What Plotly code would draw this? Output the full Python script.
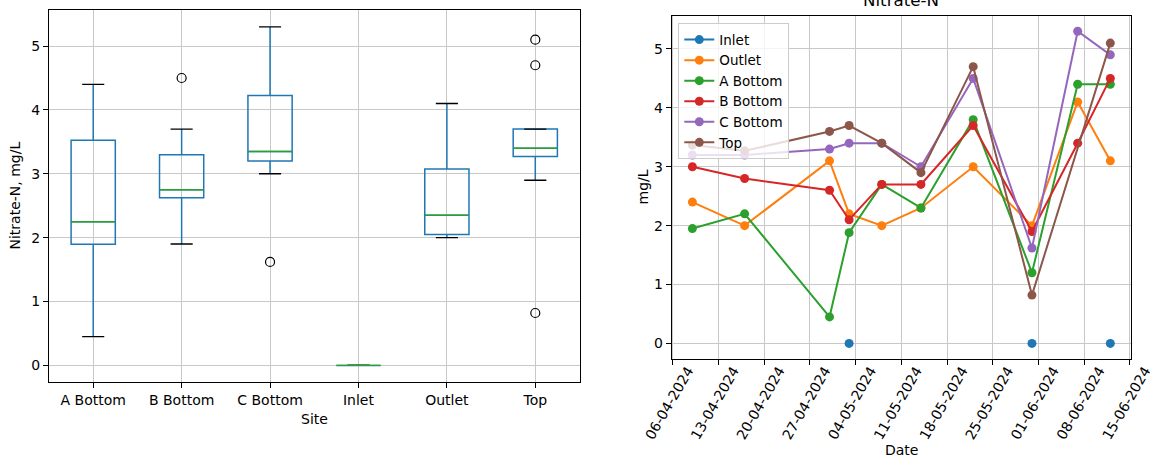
import numpy as np
import plotly.graph_objects as go

# ---- sampling dates and Nitrate-N readings (mg/L) per site ----
dates = ["2024-04-09", "2024-04-17", "2024-04-30", "2024-05-03", "2024-05-08",
         "2024-05-14", "2024-05-22", "2024-05-31", "2024-06-07", "2024-06-12"]
inlet = [None, None, None, 0.0, None, None, None, 0.0, None, 0.0]
outlet = [2.4, 2.0, 3.1, 2.2, 2.0, 2.3, 3.0, 2.0, 4.1, 3.1]
a_bottom = [1.95, 2.2, 0.45, 1.88, 2.7, 2.3, 3.8, 1.2, 4.4, 4.4]
b_bottom = [3.0, 2.8, 2.6, 2.1, 2.7, 2.7, 3.7, 1.9, 3.4, 4.5]
c_bottom = [3.2, 3.2, 3.3, 3.4, 3.4, 3.0, 4.5, 1.62, 5.3, 4.9]
top_dates = ["2024-04-09", "2024-04-17", "2024-04-30", "2024-05-03", "2024-05-08",
             "2024-05-14", "2024-05-22", "2024-05-31", "2024-06-12"]
top = [3.37, 3.27, 3.6, 3.7, 3.4, 2.9, 4.7, 0.82, 5.1]

box_sites = ["A Bottom", "B Bottom", "C Bottom", "Inlet", "Outlet", "Top"]
line_sites = ["Inlet", "Outlet", "A Bottom", "B Bottom", "C Bottom", "Top"]
date_ticks = ["2024-04-06", "2024-04-13", "2024-04-20", "2024-04-27", "2024-05-04", "2024-05-11",
              "2024-05-18", "2024-05-25", "2024-06-01", "2024-06-08", "2024-06-15"]
y_ticks = [0, 1, 2, 3, 4, 5]

series = {
    "Inlet": (dates, inlet),
    "Outlet": (dates, outlet),
    "A Bottom": (dates, a_bottom),
    "B Bottom": (dates, b_bottom),
    "C Bottom": (dates, c_bottom),
    "Top": (top_dates, top),
}
colors = {"Inlet": "#1f77b4", "Outlet": "#ff7f0e", "A Bottom": "#2ca02c",
          "B Bottom": "#d62728", "C Bottom": "#9467bd", "Top": "#8c564b"}

W, H = 1151, 459
FONT = "DejaVu Sans"
FS = 14
GRID = "#c8c8c8"


def px_x(p):
    return p / W


def px_y(p):
    return 1 - p / H


# box statistics with linear-interpolated quartiles and 1.5*IQR whiskers
def box_stats(vals):
    v = np.sort(np.array([x for x in vals if x is not None], dtype=float))
    q1, med, q3 = np.percentile(v, [25, 50, 75])
    iqr = q3 - q1
    lo = v[v >= q1 - 1.5 * iqr].min()
    hi = v[v <= q3 + 1.5 * iqr].max()
    fl = v[(v < lo) | (v > hi)]
    return q1, med, q3, lo, hi, fl


pos = np.arange(1, len(box_sites) + 1)
stats = [box_stats(series[s][1]) for s in box_sites]

fig = go.Figure()

# ---- left panel: box plot by site ----
fig.add_trace(go.Box(
    x=pos, q1=[s[0] for s in stats], median=[s[1] for s in stats], q3=[s[2] for s in stats],
    lowerfence=[s[3] for s in stats], upperfence=[s[4] for s in stats],
    width=0.5, whiskerwidth=0, boxpoints=False,
    line=dict(color="#1f77b4", width=1.5), fillcolor="rgba(0,0,0,0)",
    xaxis="x", yaxis="y", showlegend=False, hoverinfo="skip"))

med_x, med_y, cap_x, cap_y, fx, fy = [], [], [], [], [], []
for p, s in zip(pos, stats):
    med_x += [p - 0.25, p + 0.25, None]
    med_y += [s[1], s[1], None]
    for w in (s[3], s[4]):
        cap_x += [p - 0.125, p + 0.125, None]
        cap_y += [w, w, None]
    fx += [p] * len(s[5])
    fy += list(s[5])

fig.add_trace(go.Scatter(x=cap_x, y=cap_y, mode="lines", line=dict(color="black", width=1.4),
                         xaxis="x", yaxis="y", showlegend=False, hoverinfo="skip"))
fig.add_trace(go.Scatter(x=med_x, y=med_y, mode="lines", line=dict(color="#2ca02c", width=1.4),
                         xaxis="x", yaxis="y", showlegend=False, hoverinfo="skip"))
fig.add_trace(go.Scatter(x=fx, y=fy, mode="markers",
                         marker=dict(symbol="circle-open", size=9, color="black", line=dict(width=1.2)),
                         xaxis="x", yaxis="y", showlegend=False, hoverinfo="skip"))

# ---- right panel: time series per site ----
for name in line_sites:
    xs, ys = series[name]
    fig.add_trace(go.Scatter(
        x=xs, y=ys, name=name, mode="lines+markers", connectgaps=False,
        line=dict(color=colors[name], width=2), marker=dict(color=colors[name], size=9),
        xaxis="x2", yaxis="y2"))

axis_common = dict(showline=True, linecolor="black", linewidth=1, mirror=True,
                   ticks="outside", ticklen=5, tickcolor="black", tickwidth=1,
                   showgrid=True, gridcolor=GRID, gridwidth=1, zeroline=False,
                   automargin=False, ticklabeloverflow="allow",
                   tickfont=dict(family=FONT, size=FS, color="black"))

fig.update_layout(
    width=W, height=H, margin=dict(l=0, r=0, t=0, b=0, autoexpand=False),
    paper_bgcolor="white", plot_bgcolor="white",
    font=dict(family=FONT, size=FS, color="black"),
    xaxis=dict(domain=[px_x(49), px_x(579.5)], range=[0.5, 6.5], tickmode="array",
               tickvals=list(pos), ticktext=box_sites, anchor="y", **axis_common),
    yaxis=dict(domain=[px_y(382.3), px_y(10)], range=[-0.265, 5.565], tickmode="array",
               tickvals=y_ticks, anchor="x", **axis_common),
    xaxis2=dict(domain=[px_x(671.7), px_x(1131)], type="date",
                range=["2024-04-05 20:00", "2024-06-15 04:00"], tickmode="array",
                tickvals=date_ticks, tickformat="%d-%m-%Y", tickangle=-60,
                ticklabelshift=15, ticklabelstandoff=-8, anchor="y2", **axis_common),
    yaxis2=dict(domain=[px_y(359), px_y(15.7)], range=[-0.265, 5.565], tickmode="array",
                tickvals=y_ticks, anchor="x2", **axis_common),
    legend=dict(x=px_x(678.3), y=px_y(23.3), xanchor="left", yanchor="top",
                bgcolor="rgba(255,255,255,0.8)", bordercolor="#cccccc", borderwidth=1,
                font=dict(family=FONT, size=13.5, color="black"), tracegroupgap=0),
    showlegend=True,
)

annots = [
    dict(text="Nitrate-N", x=px_x(901.4), y=px_y(12), xanchor="center", yanchor="bottom",
         font=dict(size=16.7)),
    dict(text="Site", x=px_x(314), y=px_y(419), xanchor="center", yanchor="middle"),
    dict(text="Date", x=px_x(901.4), y=px_y(450), xanchor="center", yanchor="middle"),
    dict(text="Nitrate-N, mg/L", x=px_x(14.5), y=px_y(196), xanchor="center", yanchor="middle",
         textangle=-90),
    dict(text="mg/L", x=px_x(642.5), y=px_y(187), xanchor="center", yanchor="middle",
         textangle=-90),
]
for a in annots:
    a.setdefault("font", {})
    a["font"] = dict(family=FONT, color="black", size=a["font"].get("size", FS))
    fig.add_annotation(xref="paper", yref="paper", showarrow=False, **a)

fig.write_html("out.html")
